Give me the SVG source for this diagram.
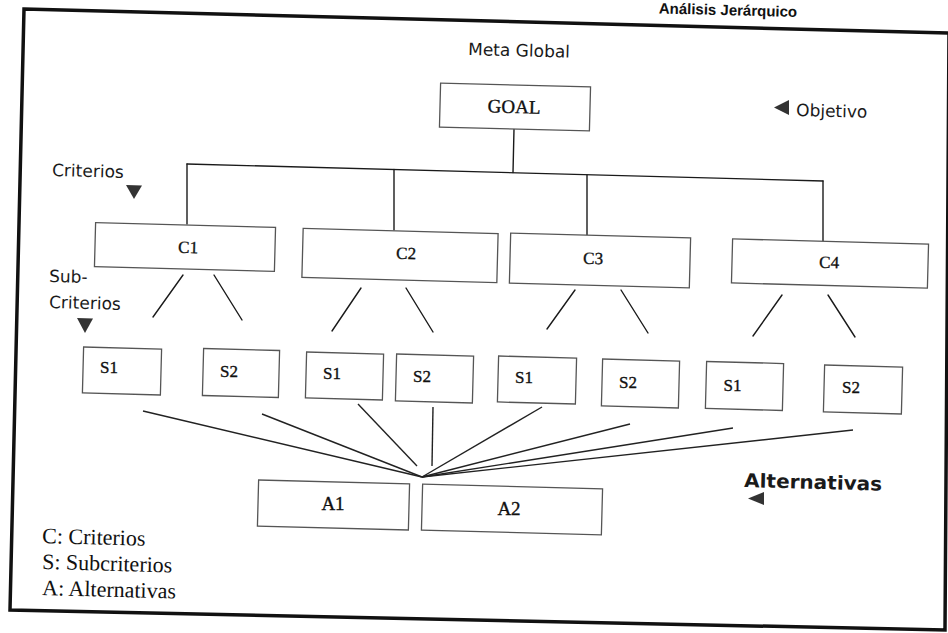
<svg xmlns="http://www.w3.org/2000/svg" width="948" height="633" viewBox="0 0 948 633">
<style>
.box{fill:#fff;stroke:#555;stroke-width:1.3}
.lbl{font-family:"Liberation Serif","Times New Roman",serif;fill:#111;stroke:#111;stroke-width:0.35;text-anchor:middle}
.sans{font-family:"DejaVu Sans",Verdana,sans-serif;fill:#1a1a1a;font-size:17px}
.ln{stroke:#1a1a1a;stroke-width:1.4;fill:none;stroke-linecap:round}
.fan{stroke:#222;stroke-width:1.4;fill:none}
.tri{fill:#333}
</style>
<rect width="948" height="633" fill="#fff"/>
<text x="797" y="17" font-family="'Liberation Sans',Arial,sans-serif" font-weight="bold" font-size="15" fill="#111" text-anchor="end" transform="rotate(1.5 797 17)">Análisis Jerárquico</text>
<polygon id="frame" points="24,9 949,33 945,630 10,610" fill="none" stroke="#111" stroke-width="3.5"/>

<g id="labels">
<text class="sans" x="468" y="55" transform="rotate(1.5 468 55)">Meta Global</text>
<g id="objetivo">
<polygon class="tri" points="789,100 789,115 774,107.5"/>
<text class="sans" x="796" y="116" transform="rotate(1.5 796 116)">Objetivo</text>
</g>
<g id="criterios-label">
<text class="sans" x="52" y="176" transform="rotate(1.5 52 176)">Criterios</text>
<polygon class="tri" points="126,185 142,185.5 134,199"/>
</g>
<g id="subcriterios-label">
<text class="sans" x="49" y="282" transform="rotate(1.5 49 282)">Sub-</text>
<text class="sans" x="49" y="308" transform="rotate(1.5 49 308)">Criterios</text>
<polygon class="tri" points="77,318 93,318.5 85,333"/>
</g>
<g id="alternativas-label">
<text x="744" y="487" font-family="'DejaVu Sans',Verdana,sans-serif" font-weight="bold" font-size="19" fill="#1a1a1a" textLength="138" lengthAdjust="spacingAndGlyphs" transform="rotate(1.5 744 487)">Alternativas</text>
<polygon class="tri" points="764,492 764,505 748,498.5"/>
</g>
<g id="legend" font-family="'Liberation Serif','Times New Roman',serif" font-size="22" fill="#111">
<text x="42" y="543" transform="rotate(1.5 42 543)">C: Criterios</text>
<text x="42" y="569" transform="rotate(1.5 42 569)">S: Subcriterios</text>
<text x="42" y="595" transform="rotate(1.5 42 595)">A: Alternativas</text>
</g>
</g>

<g id="connectors">
<line class="ln" x1="514" y1="129" x2="513" y2="172.5"/>
<line class="ln" x1="187" y1="164" x2="823" y2="181"/>
<line class="ln" x1="187" y1="164" x2="187" y2="224"/>
<line class="ln" x1="394" y1="169.5" x2="394" y2="230"/>
<line class="ln" x1="587" y1="175" x2="587" y2="235"/>
<line class="ln" x1="823" y1="181" x2="823" y2="241"/>
<line class="ln" x1="183" y1="275" x2="153" y2="317"/>
<line class="ln" x1="214" y1="275" x2="242" y2="320"/>
<line class="ln" x1="361" y1="288" x2="332" y2="331"/>
<line class="ln" x1="406" y1="288" x2="433" y2="332"/>
<line class="ln" x1="575" y1="290" x2="547" y2="329"/>
<line class="ln" x1="621" y1="290" x2="648" y2="333"/>
<line class="ln" x1="782" y1="295" x2="753" y2="336"/>
<line class="ln" x1="828" y1="295" x2="855" y2="337"/>
<line class="fan" x1="143" y1="411" x2="422" y2="477"/>
<line class="fan" x1="262" y1="414" x2="422" y2="477"/>
<line class="fan" x1="358" y1="404" x2="417" y2="466"/>
<line class="fan" x1="433" y1="407" x2="432" y2="466"/>
<line class="fan" x1="542" y1="407" x2="422" y2="477"/>
<line class="fan" x1="630" y1="424" x2="422" y2="477"/>
<line class="fan" x1="733" y1="428" x2="422" y2="477"/>
<line class="fan" x1="853" y1="430" x2="422" y2="477"/>
</g>

<g id="goal"><rect class="box" x="440" y="85" width="150" height="44" transform="rotate(1.5 515 107)"/><text class="lbl" x="514" y="113" font-size="19" transform="rotate(1.5 514 113)">GOAL</text></g>
<g id="c1"><rect class="box" x="95" y="225" width="180" height="44" transform="rotate(1.5 185 247)"/><text class="lbl" x="188" y="253" font-size="17" transform="rotate(1.5 188 253)">C1</text></g>
<g id="c2"><rect class="box" x="302.5" y="231" width="195" height="49" transform="rotate(1.5 400 255.5)"/><text class="lbl" x="406" y="259" font-size="17" transform="rotate(1.5 406 259)">C2</text></g>
<g id="c3"><rect class="box" x="510" y="235.5" width="180" height="50" transform="rotate(1.5 600 260.5)"/><text class="lbl" x="593" y="264" font-size="17" transform="rotate(1.5 593 264)">C3</text></g>
<g id="c4"><rect class="box" x="732" y="241.5" width="196" height="44" transform="rotate(1.5 830 263.5)"/><text class="lbl" x="829" y="268" font-size="17" transform="rotate(1.5 829 268)">C4</text></g>

<g id="s1-c1"><rect class="box" x="83" y="348" width="78" height="46" transform="rotate(1.5 122 371)"/><text class="lbl" x="109" y="373" font-size="17">S1</text></g>
<g id="s2-c1"><rect class="box" x="203" y="349.5" width="76" height="47" transform="rotate(1.5 241 373)"/><text class="lbl" x="229" y="377" font-size="17">S2</text></g>
<g id="s1-c2"><rect class="box" x="306" y="353" width="77" height="46" transform="rotate(1.5 344.5 376)"/><text class="lbl" x="332" y="379" font-size="17">S1</text></g>
<g id="s2-c2"><rect class="box" x="396" y="355" width="77" height="47" transform="rotate(1.5 434.5 378.5)"/><text class="lbl" x="422" y="382" font-size="17">S2</text></g>
<g id="s1-c3"><rect class="box" x="498" y="357" width="78" height="46" transform="rotate(1.5 537 380)"/><text class="lbl" x="524" y="383" font-size="17">S1</text></g>
<g id="s2-c3"><rect class="box" x="602" y="360" width="77" height="47" transform="rotate(1.5 640.5 383.5)"/><text class="lbl" x="628" y="388" font-size="17">S2</text></g>
<g id="s1-c4"><rect class="box" x="706" y="362.5" width="77" height="47" transform="rotate(1.5 744.5 386)"/><text class="lbl" x="732.5" y="391" font-size="17">S1</text></g>
<g id="s2-c4"><rect class="box" x="824" y="366" width="78" height="47" transform="rotate(1.5 863 389.5)"/><text class="lbl" x="851" y="393" font-size="17">S2</text></g>

<g id="a1"><rect class="box" x="258" y="482" width="151" height="46" transform="rotate(1.5 333.5 505)"/><text class="lbl" x="333" y="510" font-size="19">A1</text></g>
<g id="a2"><rect class="box" x="422" y="486.5" width="180" height="46" transform="rotate(1.5 512 509.5)"/><text class="lbl" x="509" y="515" font-size="19">A2</text></g>
</svg>
